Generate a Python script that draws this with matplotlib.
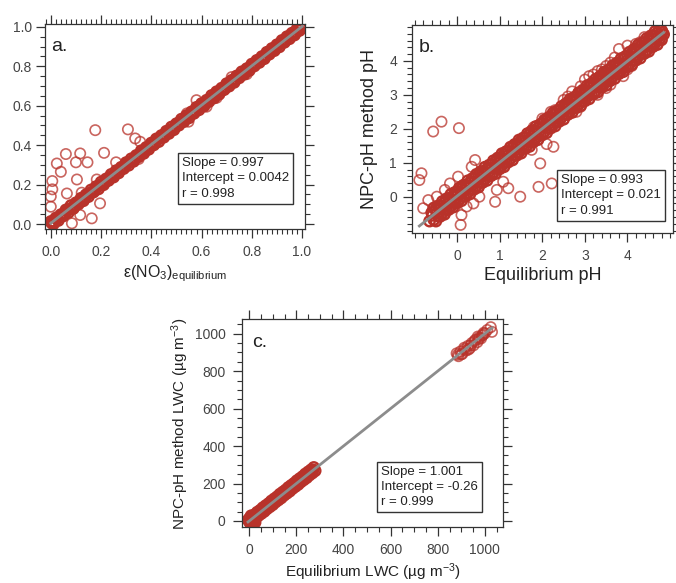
import matplotlib
matplotlib.use('Agg')
import matplotlib.pyplot as plt
from matplotlib.ticker import MultipleLocator, FixedLocator, FormatStrFormatter

plt.rcParams['font.family'] = ['Liberation Sans', 'DejaVu Sans']
plt.rcParams['mathtext.fontset'] = 'custom'
plt.rcParams['mathtext.rm'] = 'Liberation Sans'
plt.rcParams['mathtext.it'] = 'Liberation Sans:italic'

# ---- panel a: e(NO3) equilibrium vs NPC-pH method ----
a_band_x = [0.00, 0.02, 0.04, 0.06, 0.08, 0.10, 0.12, 0.14, 0.16, 0.18, 0.20, 0.22, 0.24, 0.26, 0.28,
            0.30, 0.32, 0.34, 0.36, 0.38, 0.40, 0.42, 0.44, 0.46, 0.48, 0.50, 0.52, 0.54, 0.56, 0.58,
            0.60, 0.62, 0.64, 0.66, 0.68, 0.70, 0.72, 0.74, 0.76, 0.78, 0.80, 0.82, 0.84, 0.86, 0.88,
            0.90, 0.92, 0.94, 0.96, 0.98, 1.00,
            0.01, 0.03, 0.05, 0.07, 0.09, 0.11, 0.13, 0.15, 0.17, 0.19, 0.21, 0.23, 0.25, 0.27, 0.29,
            0.31, 0.33, 0.35, 0.37, 0.39, 0.41, 0.43, 0.45, 0.47, 0.49, 0.51, 0.53, 0.55, 0.57, 0.59,
            0.61, 0.63, 0.65, 0.67, 0.69, 0.71, 0.73, 0.75, 0.77, 0.79, 0.81, 0.83, 0.85, 0.87, 0.89,
            0.91, 0.93, 0.95, 0.97, 0.99,
            0.005, 0.025, 0.045, 0.065, 0.085, 0.105, 0.125, 0.145, 0.165, 0.185, 0.205, 0.225, 0.245,
            0.265, 0.285, 0.305, 0.325, 0.345, 0.365, 0.385, 0.405, 0.425, 0.445, 0.465, 0.485, 0.505,
            0.525, 0.545, 0.565, 0.585, 0.605, 0.625, 0.645, 0.665, 0.685, 0.705, 0.725, 0.745, 0.765,
            0.785, 0.805, 0.825, 0.845, 0.865, 0.885, 0.905, 0.925, 0.945, 0.965, 0.985,
            0.015, 0.035, 0.055, 0.075, 0.095, 0.115, 0.135, 0.155, 0.175, 0.195, 0.215, 0.235, 0.255,
            0.275, 0.295, 0.315, 0.335, 0.355, 0.375, 0.395, 0.415, 0.435, 0.455, 0.475, 0.495, 0.515,
            0.535, 0.555, 0.575, 0.595, 0.615, 0.635, 0.655, 0.675, 0.695, 0.715, 0.735, 0.755, 0.775,
            0.795, 0.815, 0.835, 0.855, 0.875, 0.895, 0.915, 0.935, 0.955, 0.975, 0.995]
a_band_y = [0.012, 0.031, 0.048, 0.072, 0.094, 0.108, 0.131, 0.149, 0.173, 0.190, 0.213, 0.229, 0.252, 0.271, 0.288,
            0.312, 0.331, 0.348, 0.372, 0.389, 0.411, 0.432, 0.449, 0.471, 0.492, 0.509, 0.532, 0.550, 0.569, 0.592,
            0.611, 0.628, 0.652, 0.671, 0.689, 0.712, 0.729, 0.751, 0.772, 0.788, 0.811, 0.830, 0.849, 0.871, 0.890,
            0.909, 0.931, 0.950, 0.968, 0.989, 1.004,
            0.000, 0.018, 0.041, 0.058, 0.079, 0.101, 0.118, 0.139, 0.162, 0.178, 0.199, 0.221, 0.238, 0.259, 0.281,
            0.298, 0.318, 0.341, 0.358, 0.379, 0.401, 0.418, 0.440, 0.459, 0.478, 0.501, 0.519, 0.538, 0.561, 0.579,
            0.598, 0.621, 0.639, 0.658, 0.681, 0.699, 0.718, 0.741, 0.759, 0.778, 0.801, 0.819, 0.838, 0.861, 0.879,
            0.898, 0.921, 0.939, 0.958, 0.981,
            0.004, 0.027, 0.043, 0.068, 0.083, 0.107, 0.124, 0.148, 0.163, 0.188, 0.204, 0.227, 0.243,
            0.268, 0.283, 0.307, 0.322, 0.347, 0.364, 0.386, 0.403, 0.428, 0.444, 0.466, 0.483, 0.507,
            0.524, 0.546, 0.563, 0.588, 0.604, 0.626, 0.643, 0.667, 0.684, 0.706, 0.723, 0.748, 0.763,
            0.787, 0.804, 0.826, 0.843, 0.868, 0.884, 0.906, 0.923, 0.947, 0.963, 0.986,
            0.010, 0.037, 0.052, 0.076, 0.091, 0.116, 0.132, 0.156, 0.171, 0.196, 0.211, 0.236, 0.252,
            0.276, 0.291, 0.316, 0.332, 0.356, 0.371, 0.396, 0.411, 0.436, 0.452, 0.476, 0.491, 0.516,
            0.532, 0.556, 0.571, 0.596, 0.611, 0.636, 0.652, 0.676, 0.691, 0.716, 0.732, 0.756, 0.771,
            0.796, 0.811, 0.836, 0.852, 0.876, 0.891, 0.916, 0.932, 0.956, 0.971, 0.993]
a_out_x = [0.177, 0.307, 0.356, 0.060, 0.117, 0.212, 0.024, 0.100, 0.146, 0.260, 0.040, 0.104, 0.183,
           0.006, 0.006, 0.064, 0.123, 0.000, 0.000, 0.196, 0.117, 0.163, 0.084, 0.336, 0.350, 0.300,
           0.542, 0.580, 0.620, 0.548, 0.720, 0.780, 0.660, 0.005, 0.010, 0.000]
a_out_y = [0.476, 0.480, 0.417, 0.355, 0.358, 0.361, 0.307, 0.313, 0.313, 0.313, 0.265, 0.226, 0.226,
           0.218, 0.176, 0.155, 0.159, 0.140, 0.088, 0.105, 0.046, 0.029, 0.004, 0.434, 0.330, 0.310,
           0.561, 0.628, 0.595, 0.519, 0.745, 0.760, 0.640, 0.010, 0.000, 0.015]
a_stats = ['Slope = 0.997', 'Intercept = 0.0042', 'r = 0.998']
a_fit = (0.997, 0.0042)

# ---- panel b: pH ----
b_band_x = [-0.60, -0.50, -0.40, -0.30, -0.20, -0.10, 0.00, 0.10, 0.20, 0.30, 0.40, 0.50, 0.60, 0.70, 0.80,
            0.90, 1.00, 1.10, 1.20, 1.30, 1.40, 1.50, 1.60, 1.70, 1.80, 1.90, 2.00, 2.10, 2.20, 2.30,
            2.40, 2.50, 2.60, 2.70, 2.80, 2.90, 3.00, 3.10, 3.20, 3.30, 3.40, 3.50, 3.60, 3.70, 3.80,
            3.90, 4.00, 4.10, 4.20, 4.30, 4.40, 4.50, 4.60, 4.70, 4.80,
            -0.65, -0.55, -0.45, -0.35, -0.25, -0.15, -0.05, 0.05, 0.15, 0.25, 0.35, 0.45, 0.55, 0.65,
            0.75, 0.85, 0.95, 1.05, 1.15, 1.25, 1.35, 1.45, 1.55, 1.65, 1.75, 1.85, 1.95, 2.05, 2.15,
            2.25, 2.35, 2.45, 2.55, 2.65, 2.75, 2.85, 2.95, 3.05, 3.15, 3.25, 3.35, 3.45, 3.55, 3.65,
            3.75, 3.85, 3.95, 4.05, 4.15, 4.25, 4.35, 4.45, 4.55, 4.65, 4.75, 4.85,
            -0.58, -0.48, -0.38, -0.28, -0.18, -0.08, 0.02, 0.12, 0.22, 0.32, 0.42, 0.52, 0.62, 0.72,
            0.82, 0.92, 1.02, 1.12, 1.22, 1.32, 1.42, 1.52, 1.62, 1.72, 1.82, 1.92, 2.02, 2.12, 2.22,
            2.32, 2.42, 2.52, 2.62, 2.72, 2.82, 2.92, 3.02, 3.12, 3.22, 3.32, 3.42, 3.52, 3.62, 3.72,
            3.82, 3.92, 4.02, 4.12, 4.22, 4.32, 4.42, 4.52, 4.62, 4.72, 4.82]
b_band_y = [-0.47, -0.36, -0.28, -0.17, -0.05, 0.02, 0.14, 0.23, 0.33, 0.42, 0.55, 0.63, 0.74, 0.82, 0.95,
            1.03, 1.14, 1.25, 1.33, 1.44, 1.52, 1.65, 1.73, 1.84, 1.95, 2.03, 2.16, 2.24, 2.33, 2.45,
            2.54, 2.63, 2.76, 2.84, 2.93, 3.07, 3.14, 3.25, 3.36, 3.43, 3.57, 3.64, 3.75, 3.86, 3.93,
            4.05, 4.14, 4.23, 4.35, 4.43, 4.54, 4.63, 4.74, 4.83, 4.90,
            -0.72, -0.68, -0.57, -0.49, -0.36, -0.28, -0.18, -0.08, 0.03, 0.12, 0.22, 0.31, 0.43, 0.52,
            0.62, 0.71, 0.84, 0.92, 1.02, 1.12, 1.23, 1.31, 1.44, 1.52, 1.61, 1.73, 1.82, 1.92, 2.04,
            2.12, 2.21, 2.34, 2.42, 2.51, 2.64, 2.72, 2.81, 2.94, 3.02, 3.11, 3.24, 3.33, 3.41, 3.53,
            3.62, 3.72, 3.84, 3.91, 4.02, 4.13, 4.22, 4.31, 4.43, 4.52, 4.63, 4.78,
            -0.55, -0.49, -0.36, -0.29, -0.15, -0.09, 0.05, 0.11, 0.25, 0.31, 0.44, 0.51, 0.65, 0.71,
            0.84, 0.91, 1.05, 1.11, 1.24, 1.31, 1.45, 1.51, 1.64, 1.71, 1.85, 1.91, 2.04, 2.11, 2.25,
            2.31, 2.44, 2.51, 2.65, 2.71, 2.84, 2.91, 3.04, 3.11, 3.25, 3.31, 3.44, 3.51, 3.65, 3.71,
            3.84, 3.91, 4.04, 4.11, 4.25, 4.31, 4.44, 4.51, 4.65, 4.71, 4.84]
# outer edges of the pH band (above and below the 1:1 line)
b_edge_hi_x = [-0.55, -0.45, -0.35, -0.25, -0.15, -0.05, 0.05, 0.15, 0.25, 0.35, 0.45, 0.55, 0.65, 0.75,
               0.85, 0.95, 1.05, 1.15, 1.25, 1.35, 1.45, 1.55, 1.65, 1.75, 1.85, 1.95, 2.05, 2.15, 2.25,
               2.35, 2.45, 2.55, 2.65, 2.75, 2.85, 2.95, 3.05, 3.15, 3.25, 3.35, 3.45, 3.55, 3.65, 3.75,
               3.85, 3.95, 4.05, 4.15, 4.25, 4.35, 4.45, 4.55, 4.65, 4.75]
b_edge_hi_y = [-0.33, -0.27, -0.14, -0.06, 0.07, 0.13, 0.26, 0.34, 0.47, 0.53, 0.66, 0.74, 0.87, 0.93,
               1.06, 1.14, 1.27, 1.33, 1.46, 1.54, 1.67, 1.73, 1.86, 1.94, 2.07, 2.13, 2.26, 2.34, 2.47,
               2.53, 2.66, 2.74, 2.87, 2.93, 3.06, 3.14, 3.27, 3.33, 3.46, 3.54, 3.67, 3.73, 3.86, 3.94,
               4.07, 4.13, 4.26, 4.34, 4.47, 4.53, 4.66, 4.74, 4.87, 4.93]
b_edge_lo_x = [-0.50, -0.40, -0.30, -0.20, -0.10, 0.00, 0.10, 0.20, 0.30, 0.40, 0.50, 0.60, 0.70, 0.80,
               0.90, 1.00, 1.10, 1.20, 1.30, 1.40, 1.50, 1.60, 1.70, 1.80, 1.90, 2.00, 2.10, 2.20, 2.30,
               2.40, 2.50, 2.60, 2.70, 2.80, 2.90, 3.00, 3.10, 3.20, 3.30, 3.40, 3.50, 3.60, 3.70, 3.80,
               3.90, 4.00, 4.10, 4.20, 4.30, 4.40, 4.50, 4.60, 4.70, 4.80]
b_edge_lo_y = [-0.72, -0.58, -0.52, -0.38, -0.31, -0.18, -0.12, 0.02, 0.08, 0.22, 0.28, 0.42, 0.48, 0.62,
               0.68, 0.82, 0.88, 1.02, 1.08, 1.22, 1.28, 1.42, 1.48, 1.62, 1.68, 1.82, 1.88, 2.02, 2.08,
               2.22, 2.28, 2.42, 2.48, 2.62, 2.68, 2.82, 2.88, 3.02, 3.08, 3.22, 3.28, 3.42, 3.48, 3.62,
               3.68, 3.82, 3.88, 4.02, 4.08, 4.22, 4.28, 4.42, 4.48, 4.62]
b_out_x = [-0.565, -0.37, 0.04, 0.42, -0.84, -0.89, 0.02, -0.17, 0.09, -0.29, -0.48, -0.68, -0.80,
           -0.05, 0.22, 0.10, 0.52, 0.38, 0.08, 1.08, 0.93, 1.20, 0.89, 1.48, 1.75, 1.95, 2.26, 1.91,
           2.22, 2.10, 0.34, 3.10, 3.30, 3.50, 3.00, 4.00, 4.20, 3.80, 2.30, 2.60, 3.50, 3.90, 2.80,
           4.40, 4.10, 2.50, 2.70, 2.90, 3.20, 3.40, 3.60, 3.70, 4.30, 4.50, 3.30, 3.60, 4.00, 2.90,
           2.20, 2.00, 1.80]
b_out_y = [1.92, 2.21, 2.02, 1.08, 0.69, 0.49, 0.59, 0.39, 0.30, 0.20, 0.00, -0.10, -0.34,
           -0.29, -0.29, -0.54, 0.00, -0.20, -0.83, 0.44, 0.20, 0.25, -0.15, 0.00, 1.38, 0.98, 1.47, 0.29,
           0.39, 1.55, 0.88, 3.55, 3.70, 3.85, 3.45, 4.45, 4.50, 4.35, 2.55, 2.95, 3.20, 3.55, 2.50,
           4.70, 3.85, 2.85, 3.10, 3.25, 3.60, 3.75, 3.95, 4.10, 4.55, 4.60, 3.00, 3.30, 3.75, 2.65,
           2.50, 2.30, 2.05]
b_stats = ['Slope = 0.993', 'Intercept = 0.021', 'r = 0.991']
b_fit = (0.993, 0.021)

# ---- panel c: LWC (ug m-3) ----
c_band_x = [10, 22, 34, 46, 58, 70, 82, 94, 106, 118, 130, 142, 154, 166, 178, 190, 202, 214, 226, 238,
            250, 262, 274,
            4, 16, 28, 40, 52, 64, 76, 88, 100, 112, 124, 136, 148, 160, 172, 184, 196, 208, 220, 232,
            244, 256, 268, 280,
            7, 19, 31, 43, 55, 67, 79, 91, 103, 115, 127, 139, 151, 163, 175, 187, 199, 211, 223, 235,
            247, 259, 271,
            0, 2, 6, 12, 18, -5, 8, 20, 25]
c_band_y = [24, 33, 47, 57, 71, 82, 93, 107, 118, 129, 143, 154, 165, 179, 190, 201, 215, 226, 237, 251,
            262, 273, 286,
            -10, 5, 15, 29, 40, 51, 65, 76, 87, 101, 112, 123, 137, 148, 159, 173, 184, 195, 209, 220,
            231, 245, 256, 268,
            9, 17, 33, 41, 57, 65, 81, 89, 105, 113, 129, 137, 153, 161, 177, 185, 201, 209, 225, 233,
            249, 257, 273,
            0, 15, -15, 10, -5, 5, 28, 22, -8]
c_hi_x = [880, 888, 896, 904, 912, 920, 928, 936, 944, 952, 960, 968, 976, 984, 992,
          1010, 1025, 1030, 995, 900, 970, 930, 885, 915, 940, 955, 975, 988, 1000]
c_hi_y = [895, 880, 905, 892, 925, 910, 935, 922, 950, 938, 968, 955, 980, 975, 995,
          1020, 1035, 1010, 1005, 890, 985, 915, 888, 918, 938, 960, 972, 990, 1002]
c_stats = ['Slope = 1.001', 'Intercept = -0.26', 'r = 0.999']
c_fit = (1.001, -0.26)

RED = '#b8322a'
GRAY = '#8c8c8c'
INK = '#333333'


def style_axes(ax, majors, minor_x, minor_y, xlim, ylim, fmt=None):
    ax.set_xlim(*xlim)
    ax.set_ylim(*ylim)
    ax.xaxis.set_major_locator(FixedLocator(majors))
    ax.yaxis.set_major_locator(FixedLocator(majors))
    ax.xaxis.set_minor_locator(MultipleLocator(minor_x))
    ax.yaxis.set_minor_locator(MultipleLocator(minor_y))
    ax.tick_params(which='both', direction='out', top=True, right=True,
                   color=INK, labelcolor='#444444', labelsize=10)
    ax.tick_params(which='major', length=6.5, width=0.9)
    ax.tick_params(which='minor', length=3.5, width=0.8)
    ax.tick_params(axis='x', pad=5)
    ax.tick_params(axis='y', pad=3)
    for s in ax.spines.values():
        s.set_color(INK)
        s.set_linewidth(0.9)
    if fmt:
        ax.xaxis.set_major_formatter(fmt)
        ax.yaxis.set_major_formatter(fmt)


def draw(ax, band, outl, fit, stats, box_xy, label, label_xy):
    # dense band of points along the 1:1 line
    ax.scatter(band[0], band[1], s=55, facecolors='none', edgecolors=RED,
               linewidths=1.7, zorder=2)
    # points further off the line, drawn lighter
    ax.scatter(outl[0], outl[1], s=55, facecolors='none', edgecolors=RED,
               linewidths=1.2, alpha=0.75, zorder=2)
    xall = list(band[0]) + list(outl[0])
    lo, hi = min(xall), max(xall)
    ax.plot([lo, hi], [fit[0] * lo + fit[1], fit[0] * hi + fit[1]],
            color=GRAY, lw=2, zorder=3)
    ax.text(box_xy[0], box_xy[1], '\n'.join(stats), transform=ax.transAxes,
            ha='left', va='top', fontsize=9.5, color='#222222', linespacing=1.35,
            bbox=dict(boxstyle='square,pad=0.3', fc='white', ec=INK, lw=1), zorder=5)
    ax.text(label_xy[0], label_xy[1], label, transform=ax.transAxes,
            fontsize=14, color='#222222', ha='left', va='top')


fig = plt.figure(figsize=(6.76, 5.83), dpi=100)

ax_a = fig.add_axes([0.0666, 0.6072, 0.385, 0.3516])
draw(ax_a, (a_band_x, a_band_y), (a_out_x, a_out_y), a_fit, a_stats,
     (0.525, 0.35), 'a.', (0.025, 0.93))
style_axes(ax_a, [0, 0.2, 0.4, 0.6, 0.8, 1.0], 0.02, 0.05, (-0.023, 1.013), (-0.025, 1.014),
           fmt=FormatStrFormatter('%.1f'))
ax_a.set_xlabel(r'ε(NO$_3$)$_{\mathrm{equilibrium}}$', fontsize=11.5, color='#222222', labelpad=3)

ax_b = fig.add_axes([0.609, 0.6003, 0.3866, 0.357])
draw(ax_b, (b_band_x + b_edge_hi_x + b_edge_lo_x, b_band_y + b_edge_hi_y + b_edge_lo_y),
     (b_out_x, b_out_y), b_fit, b_stats, (0.571, 0.282), 'b.', (0.025, 0.93))
style_axes(ax_b, [0, 1, 2, 3, 4], 0.2, 0.2, (-1.07, 5.07), (-1.07, 5.06))
ax_b.tick_params(axis='y', pad=4)
ax_b.set_xlabel('Equilibrium pH', fontsize=13, color='#222222', labelpad=3)
ax_b.set_ylabel('NPC-pH method pH', fontsize=13, color='#222222', labelpad=8)

ax_c = fig.add_axes([0.3575, 0.0955, 0.387, 0.3568])
draw(ax_c, (c_band_x, c_band_y), (c_hi_x, c_hi_y), c_fit, c_stats,
     (0.532, 0.296), 'c.', (0.04, 0.93))
style_axes(ax_c, [0, 200, 400, 600, 800, 1000], 50, 50, (-32, 1078), (-34, 1077))
ax_c.tick_params(axis='y', pad=5)
ax_c.set_xlabel('Equilibrium LWC (µg m$^{-3}$)', fontsize=11, color='#222222', labelpad=3)
ax_c.set_ylabel('NPC-pH method LWC (µg m$^{-3}$)', fontsize=11, color='#222222', labelpad=3)

fig.savefig('out.png', dpi=100, facecolor='white')
